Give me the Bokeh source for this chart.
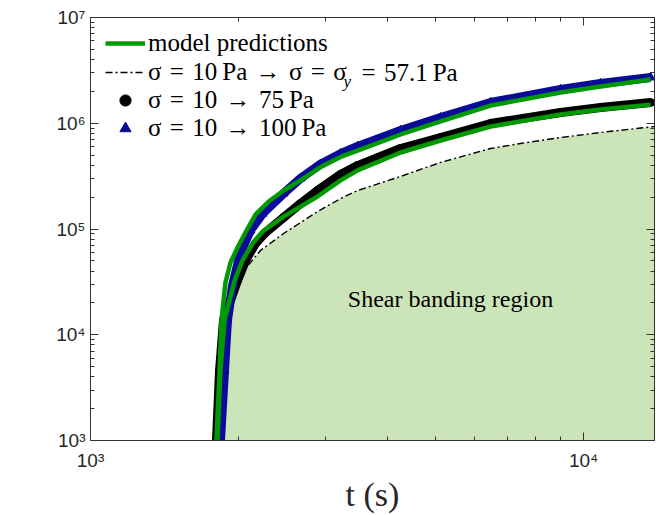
from bokeh.plotting import figure
from bokeh.models import (Range1d, FixedTicker, LogAxis, CustomJSTickFormatter, Label,
                          Legend, LegendItem)
from bokeh.embed import file_html
from bokeh.resources import INLINE

# ---------------- data ----------------
# yield-stress limit curve (sigma = 10 Pa -> sigma_y = 57.1 Pa)
t_yield = [1844, 1861, 1887, 1923, 1968, 2034, 2111, 2212, 2464, 2667, 2887,
           3215, 3480, 4255, 5129, 6478, 7451, 8982, 10827, 13932]
gamma_yield = [1.0e3, 2.97e3, 8.83e3, 1.89e4, 2.74e4, 3.88e4, 4.82e4, 6.27e4,
               9.06e4, 1.15e5, 1.46e5, 1.94e5, 2.31e5, 3.14e5, 4.26e5, 5.77e5,
               6.44e5, 7.33e5, 8.18e5, 9.31e5]

# experiment sigma = 10 -> 75 Pa
t_75 = [1801, 1827, 1861, 1987, 2063, 2161, 2265, 2464, 2667, 2887, 3215, 3480,
        4255, 5129, 6478, 8982, 10827, 13676]
gamma_75 = [1.0e3, 4.6e3, 1.37e4, 3.26e4, 5.04e4, 7.29e4, 9.27e4, 1.285e5,
            1.74e5, 2.31e5, 3.28e5, 3.98e5, 5.77e5, 7.33e5, 9.95e5, 1.264e6,
            1.409e6, 1.571e6]

# experiment sigma = 10 -> 100 Pa
t_100 = [1835, 1870, 1896, 1941, 2015, 2111, 2234, 2464, 2667, 2928, 3215, 3480,
         4255, 5129, 6478, 8982, 10827, 13676]
gamma_100 = [1.0e3, 4.6e3, 1.37e4, 2.92e4, 6.0e4, 9.7e4, 1.40e5, 2.17e5, 3.01e5,
             4.10e5, 5.15e5, 6.03e5, 8.54e5, 1.13e6, 1.57e6, 2.09e6, 2.38e6,
             2.71e6]

# model predictions
t_model_75 = [1809, 1835, 1870, 1960, 2034, 2131, 2234, 2464, 2667, 2887, 3215,
              3480, 4255, 5129, 6478, 8982, 10827, 13676]
gamma_model_75 = [1.0e3, 4.6e3, 1.37e4, 3.26e4, 5.04e4, 7.29e4, 9.47e4, 1.31e5,
                  1.63e5, 2.03e5, 2.88e5, 3.58e5, 5.29e5, 6.87e5, 9.31e5,
                  1.21e6, 1.35e6, 1.50e6]
t_model_100 = [1801, 1827, 1844, 1878, 1923, 1987, 2083, 2161, 2298, 2464, 2667,
               2928, 3215, 3480, 4255, 5129, 6478, 8982, 10827, 13676]
gamma_model_100 = [1.0e3, 4.6e3, 1.37e4, 3.12e4, 4.82e4, 6.68e4, 1.01e5, 1.37e5,
                   1.82e5, 2.31e5, 2.88e5, 3.85e5, 4.80e5, 5.52e5, 7.83e5,
                   1.04e6, 1.47e6, 1.95e6, 2.23e6, 2.59e6]

# ticks
x_major = [1e3, 1e4]
x_minor = [2e3, 3e3, 4e3, 5e3, 6e3, 7e3, 8e3, 9e3]
y_major = [1e3, 1e4, 1e5, 1e6, 1e7]
y_minor = [k * 10 ** d for d in range(3, 7) for k in range(2, 10)]

# labels
legend_labels = ["model predictions",
                 "σ\u2004=\u200410\u2009Pa\u2004→\u2004σ\u2004=\u2004σ",
                 "σ\u2004=\u200410\u2004→\u200475\u2009Pa",
                 "σ\u2004=\u200410\u2004→\u2004100\u2009Pa"]
legend_sub = "y"
legend_tail = "=\u200457.1\u2009Pa"
region_label = "Shear banding region"

GREEN = "#009a00"
BLUE = "#0b0b9a"
FILL = "#cce5b8"
AXC = "#333333"
SERIF = "Liberation Serif"

pow_fmt = CustomJSTickFormatter(code="""
const sup = {"0":"\u2070","1":"\u00b9","2":"\u00b2","3":"\u00b3","4":"\u2074",
             "5":"\u2075","6":"\u2076","7":"\u2077","8":"\u2078","9":"\u2079"};
const e = String(Math.round(Math.log10(tick)));
return "10" + e.split("").map(c => sup[c]).join("");
""")

p = figure(width=656, height=515, x_axis_type="log", y_axis_type="log",
           x_range=Range1d(1000, 13930), y_range=Range1d(1e3, 1e7),
           output_backend="svg", toolbar_location=None,
           min_border_left=90, min_border_right=2, min_border_top=17,
           min_border_bottom=75)
p.grid.visible = False
p.outline_line_color = AXC
p.background_fill_color = "white"
p.border_fill_color = "white"

# shaded region under the yield curve
p.varea(x=t_yield, y1=1e3, y2=gamma_yield, fill_color=FILL, fill_alpha=1.0)
r_dash = p.line(t_yield, gamma_yield, line_color="black", line_width=1.4,
                line_dash="7 3 2 3")

# 75 Pa data
p.line(t_75, gamma_75, line_color="black", line_width=9)
r_b = p.scatter(t_75, gamma_75, marker="circle", size=8, fill_color="black",
                line_color="black")
# 100 Pa data
p.line(t_100, gamma_100, line_color=BLUE, line_width=9)
r_t = p.scatter(t_100, gamma_100, marker="triangle", size=9, fill_color=BLUE,
                line_color=BLUE)

# model predictions
r_g = p.line(t_model_100, gamma_model_100, line_color=GREEN, line_width=4.5)
p.line(t_model_75, gamma_model_75, line_color=GREEN, line_width=4.5)

# axes
for ax in (p.xaxis[0], p.yaxis[0]):
    ax.major_tick_in = 8
    ax.major_tick_out = 0
    ax.minor_tick_in = 4
    ax.minor_tick_out = 0
    ax.axis_line_color = AXC
    ax.major_tick_line_color = AXC
    ax.minor_tick_line_color = AXC
    ax.major_label_text_font = "Liberation Sans"
    ax.major_label_text_font_size = "19px"
    ax.major_label_text_color = "#262626"
    ax.formatter = pow_fmt
p.xaxis.ticker = FixedTicker(ticks=x_major, minor_ticks=x_minor)
p.yaxis.ticker = FixedTicker(ticks=y_major, minor_ticks=y_minor)
p.yaxis.major_label_standoff = 5
p.xaxis.major_label_standoff = 9
p.xaxis.axis_label = "t (s)"
p.xaxis.axis_label_text_font = SERIF
p.xaxis.axis_label_text_font_style = "normal"
p.xaxis.axis_label_text_font_size = "34px"
p.xaxis.axis_label_text_color = "#262626"
p.xaxis.axis_label_standoff = 2

blank_fmt = CustomJSTickFormatter(code="return '';")
for side, ticks, minor in (("right", y_major, y_minor), ("above", x_major, x_minor)):
    ax = LogAxis(ticker=FixedTicker(ticks=ticks, minor_ticks=minor),
                 formatter=blank_fmt,
                 major_label_text_font_size="2px", major_label_standoff=0,
                 major_tick_in=8, major_tick_out=0, minor_tick_in=4,
                 minor_tick_out=0, axis_line_color=AXC,
                 major_tick_line_color=AXC, minor_tick_line_color=AXC)
    p.add_layout(ax, side)

# y label (upright gamma, placed by hand)
p.add_layout(Label(x=-70, y=205, x_units="screen", y_units="screen", text="γ",
                   text_font=SERIF, text_font_style="italic",
                   text_font_size="38px", text_color="#262626",
                   text_align="center", text_baseline="middle"))

# legend: one single-row legend per entry so rows sit where the reference has them
row_bottoms = [383, 354, 326, 298]
for lab, rend, vy in zip(legend_labels, (r_g, r_dash, r_b, r_t), row_bottoms):
    lg = Legend(items=[LegendItem(label=lab, renderers=[rend])],
                location=(15, vy), margin=0, padding=0, spacing=0,
                glyph_width=40, glyph_height=28, label_height=28,
                label_standoff=3, label_text_font=SERIF,
                label_text_font_size="25px", label_text_color="black",
                background_fill_alpha=0, border_line_alpha=0)
    p.add_layout(lg)

p.add_layout(Label(x=253, y=359, x_units="screen", y_units="screen",
                   text=legend_sub, text_font=SERIF, text_font_style="italic",
                   text_font_size="17px", text_align="left", text_color="black",
                   text_baseline="alphabetic"))
p.add_layout(Label(x=271, y=368, x_units="screen", y_units="screen",
                   text=legend_tail, text_font=SERIF, text_font_size="25px",
                   text_align="left", text_baseline="middle", text_color="black"))

p.add_layout(Label(x=360, y=142, x_units="screen", y_units="screen",
                   text=region_label, text_font=SERIF, text_font_size="24px",
                   text_align="center", text_baseline="middle", text_color="black"))

open("out.html", "w").write(file_html(p, INLINE))
